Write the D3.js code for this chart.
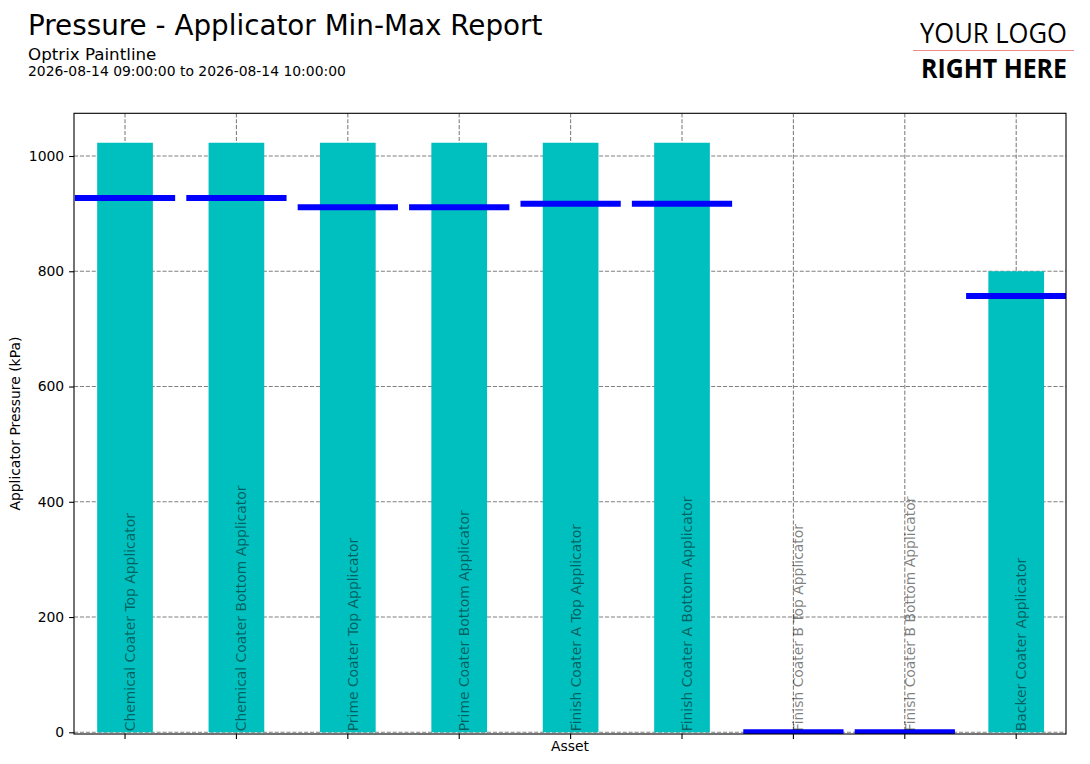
<!DOCTYPE html>
<html>
  <head>
    <meta charset="utf-8">
    <title>Pressure - Applicator Min-Max Report</title>
    <script src="https://cdn.jsdelivr.net/npm/d3@7"></script>
    <style>
      body { margin: 0; background: #fff; }
      svg { display: block; font-family: "DejaVu Sans", sans-serif; }
      .axis text { font-size: 13.9px; fill: #000; }
      .axis path, .axis line { stroke: #000; stroke-width: 1.1px; }
      .grid line { stroke: #808080; stroke-width: 1.1px; stroke-dasharray: 4.1, 1.8; }
      .label { font-size: 13.9px; fill: #000; fill-opacity: 0.5; }
    </style>
  </head>

  <body>
    <svg id="chart" width="1090" height="764"></svg>

    <script>
      // data
      assets = [
        "Chemical Coater Top Applicator",
        "Chemical Coater Bottom Applicator",
        "Prime Coater Top Applicator",
        "Prime Coater Bottom Applicator",
        "Finish Coater A Top Applicator",
        "Finish Coater A Bottom Applicator",
        "Finish Coater B Top Applicator",
        "Finish Coater B Bottom Applicator",
        "Backer Coater Applicator"
      ];
      maxValues = [1023, 1023, 1023, 1023, 1023, 1023, 0, 0, 800];
      minValues = [927, 927, 911, 911, 917, 917, 0, 0, 757];
      yTicks = [0, 200, 400, 600, 800, 1000];

      chart = d3.select("#chart");
      margin = { top: 113.3, right: 1066, bottom: 734, left: 74 };

      // scales
      x = d3.scaleLinear()
        .domain([-0.458, 8.447])
        .range([margin.left, margin.right]);
      y = d3.scaleLinear()
        .domain([-2.95, 1074.1])
        .range([margin.bottom, margin.top]);

      // header
      chart.append("text")
        .attr("x", 28)
        .attr("y", 35)
        .style("font-size", "27.8px")
        .text("Pressure - Applicator Min-Max Report");
      chart.append("text")
        .attr("x", 28)
        .attr("y", 60)
        .style("font-size", "16.7px")
        .text("Optrix Paintline");
      chart.append("text")
        .attr("x", 28)
        .attr("y", 75.5)
        .style("font-size", "13.9px")
        .text("2026-08-14 09:00:00 to 2026-08-14 10:00:00");

      // logo
      logo = chart.append("g")
        .style("font-family", "'Open Sans', sans-serif");
      logo.append("text")
        .attr("x", 920)
        .attr("y", 43)
        .attr("textLength", 147)
        .attr("lengthAdjust", "spacingAndGlyphs")
        .style("font-size", "28px")
        .style("font-weight", 400)
        .text("YOUR LOGO");
      logo.append("line")
        .attr("x1", 913)
        .attr("x2", 1074)
        .attr("y1", 50.5)
        .attr("y2", 50.5)
        .style("stroke", "#f08a8a")
        .style("stroke-width", 1);
      logo.append("text")
        .attr("x", 921)
        .attr("y", 78)
        .attr("textLength", 146)
        .attr("lengthAdjust", "spacingAndGlyphs")
        .style("font-size", "26.5px")
        .style("font-weight", 700)
        .text("RIGHT HERE");

      // clip
      chart.append("clipPath")
        .attr("id", "plotClip")
        .append("rect")
          .attr("x", margin.left)
          .attr("y", margin.top)
          .attr("width", margin.right - margin.left)
          .attr("height", margin.bottom - margin.top);

      // grid
      grid = chart.append("g")
        .classed("grid", true)
        .attr("clip-path", "url(#plotClip)");
      grid.selectAll(".gx")
          .data(assets)
        .enter().append("line")
          .attr("x1", (d, i) => x(i))
          .attr("x2", (d, i) => x(i))
          .attr("y1", margin.top)
          .attr("y2", margin.bottom);
      grid.selectAll(".gy")
          .data(yTicks)
        .enter().append("line")
          .attr("x1", margin.left)
          .attr("x2", margin.right)
          .attr("y1", d => y(d))
          .attr("y2", d => y(d));

      plot = chart.append("g")
        .attr("clip-path", "url(#plotClip)");

      // max bars
      plot.selectAll(".bar")
          .data(maxValues)
        .enter().append("rect")
          .classed("bar", true)
          .attr("x", (d, i) => x(i - 0.25))
          .attr("width", x(0.25) - x(-0.25))
          .attr("y", d => y(d))
          .attr("height", d => y(0) - y(d))
          .style("fill", "#00bfbf");

      // min lines
      plot.selectAll(".min")
          .data(minValues)
        .enter().append("line")
          .classed("min", true)
          .attr("x1", (d, i) => x(i - 0.45))
          .attr("x2", (d, i) => x(i + 0.45))
          .attr("y1", d => y(d))
          .attr("y2", d => y(d))
          .style("stroke", "#0000ff")
          .style("stroke-width", 6);

      // asset labels
      plot.selectAll(".label")
          .data(assets)
        .enter().append("text")
          .classed("label", true)
          .attr("transform", (d, i) => "translate(" + (x(i) + 10) + "," + (y(0) - 1) + ") rotate(-90)")
          .text(d => d);

      // axes
      yAxis = d3.axisLeft(y)
        .tickValues(yTicks)
        .tickFormat(d3.format("d"))
        .tickSize(4.9)
        .tickPadding(4.9)
        .tickSizeOuter(0);
      chart.append("g")
        .classed("axis", true)
        .attr("transform", "translate(" + margin.left + ",0)")
        .call(yAxis)
        .call(g => g.select(".domain").remove())
        .selectAll("text")
          .style("font-family", "'DejaVu Sans', sans-serif");

      chart.append("g")
        .classed("axis", true)
        .selectAll("line")
          .data(assets)
        .enter().append("line")
          .attr("x1", (d, i) => x(i))
          .attr("x2", (d, i) => x(i))
          .attr("y1", margin.bottom)
          .attr("y2", margin.bottom + 4.9);

      // frame
      chart.append("rect")
        .attr("x", margin.left)
        .attr("y", margin.top)
        .attr("width", margin.right - margin.left)
        .attr("height", margin.bottom - margin.top)
        .style("fill", "none")
        .style("stroke", "#000")
        .style("stroke-width", 1.1);

      // axis titles
      chart.append("text")
        .attr("x", (margin.left + margin.right) / 2)
        .attr("y", 751)
        .attr("text-anchor", "middle")
        .style("font-size", "13.9px")
        .text("Asset");
      chart.append("text")
        .attr("transform", "translate(20," + (margin.top + margin.bottom) / 2 + ") rotate(-90)")
        .attr("text-anchor", "middle")
        .style("font-size", "13.9px")
        .text("Applicator Pressure (kPa)");
    </script>
  </body>
</html>
